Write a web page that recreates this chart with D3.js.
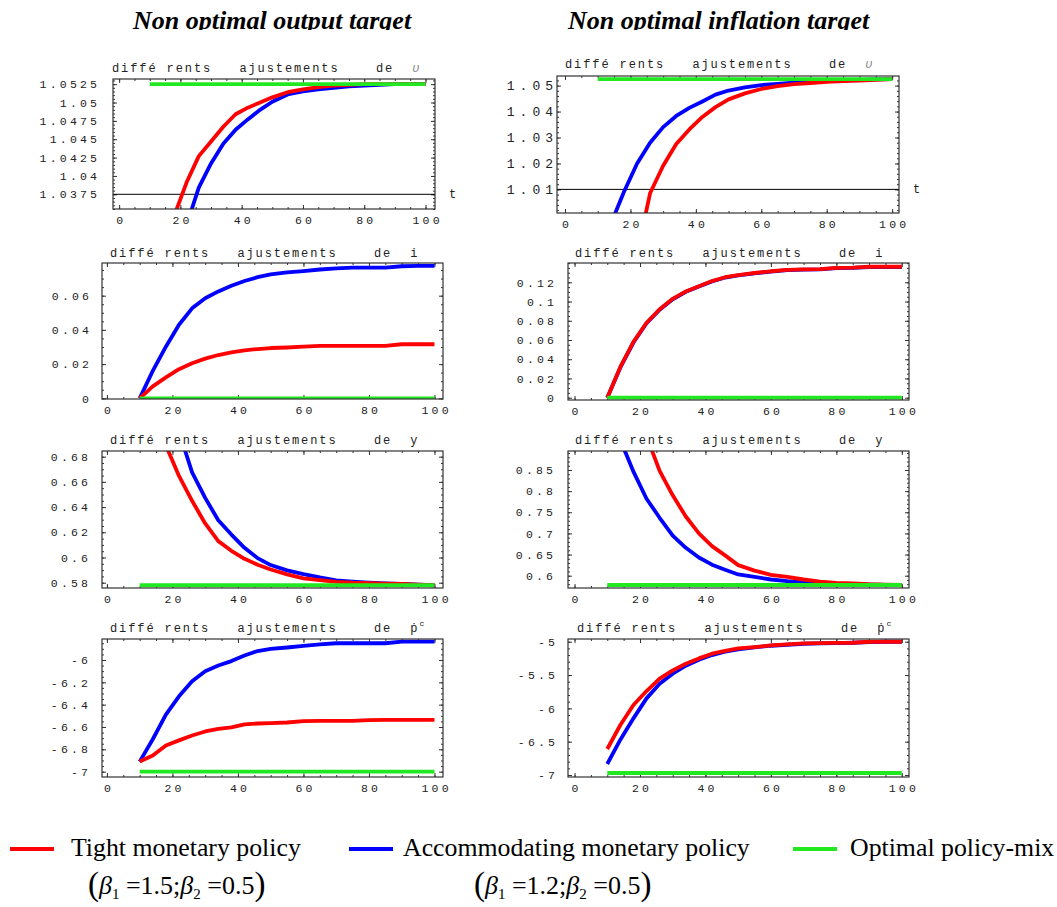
<!DOCTYPE html>
<html>
<head>
<meta charset="utf-8">
<script src="https://cdn.jsdelivr.net/npm/d3@7"></script>
<style>
  body { margin: 0; background: #fff; }
  svg { display: block; }
  .mono { font-family: "Liberation Mono", "Courier New", monospace; fill: #222; }
  .serif { font-family: "Liberation Serif", "Times New Roman", serif; fill: #000; }
</style>
</head>
<body>
<svg id="chart" width="1057" height="907"></svg>
<script>
// time grid shared by all series
const T = [10, 14, 18, 22, 26, 30, 34, 38, 42, 46, 50, 55, 60, 65, 70, 75, 80, 85, 90, 95, 100];

// upsilon
const uOutTight = [1.022, 1.029, 1.0346, 1.0391, 1.0427, 1.0447, 1.0467, 1.0484, 1.0493, 1.0500, 1.0507, 1.0514, 1.0518, 1.0521, 1.0523, 1.0524, 1.0525, 1.0525, 1.0525, 1.0525, 1.0525];
const uOutAccom = [1.012, 1.020, 1.027, 1.0333, 1.0384, 1.0417, 1.0444, 1.0463, 1.0477, 1.0490, 1.0501, 1.0511, 1.0515, 1.0518, 1.0520, 1.0522, 1.0523, 1.0524, 1.0525, 1.0525, 1.0525];
const uInfTight = [0.93, 0.95, 0.97, 0.985, 1.0085, 1.0191, 1.0275, 1.0331, 1.0379, 1.0417, 1.0447, 1.0470, 1.0487, 1.0498, 1.0506, 1.0510, 1.0514, 1.0517, 1.0519, 1.0522, 1.0525];
const uInfAccom = [0.975, 0.9967, 1.009, 1.0199, 1.0280, 1.0340, 1.0383, 1.0414, 1.0439, 1.0465, 1.0481, 1.0493, 1.0502, 1.0507, 1.0511, 1.0514, 1.0518, 1.0520, 1.0522, 1.0524, 1.0525];
// i
const iOutTight = [0, 0.0070, 0.0122, 0.0170, 0.0205, 0.0232, 0.0253, 0.0268, 0.0280, 0.0288, 0.0294, 0.0297, 0.0302, 0.0306, 0.0306, 0.0306, 0.0306, 0.0306, 0.0316, 0.0316, 0.0316];
const iOutAccom = [0, 0.0160, 0.0302, 0.0430, 0.0526, 0.0585, 0.0625, 0.0658, 0.0686, 0.0708, 0.0724, 0.0736, 0.0744, 0.0753, 0.0760, 0.0764, 0.0764, 0.0764, 0.0772, 0.0774, 0.0774];
const iInfTight = [0, 0.032, 0.058, 0.078, 0.092, 0.1028, 0.1105, 0.1160, 0.1213, 0.1253, 0.1276, 0.1297, 0.1315, 0.1329, 0.1335, 0.1338, 0.1351, 0.1353, 0.1362, 0.1362, 0.1362];
const iInfAccom = [0, 0.0315, 0.0574, 0.0774, 0.0915, 0.1024, 0.1101, 0.1157, 0.1209, 0.1250, 0.1273, 0.1294, 0.1312, 0.1326, 0.1332, 0.1335, 0.1348, 0.1350, 0.1359, 0.1359, 0.1359];
// y
const yOutTight = [0.76, 0.725, 0.689, 0.6647, 0.645, 0.627, 0.613, 0.6053, 0.599, 0.5943, 0.5905, 0.5866, 0.5835, 0.582, 0.5806, 0.58, 0.5797, 0.5793, 0.579, 0.5785, 0.578];
const yOutAccom = [0.82, 0.77, 0.733, 0.700, 0.6675, 0.6473, 0.6295, 0.6182, 0.6077, 0.5995, 0.594, 0.5898, 0.5868, 0.5842, 0.5819, 0.5809, 0.5801, 0.5795, 0.579, 0.5785, 0.578];
const yInfTight = [1.15, 1.07, 1.0, 0.93, 0.848, 0.790, 0.740, 0.700, 0.670, 0.648, 0.625, 0.612, 0.602, 0.597, 0.591, 0.586, 0.583, 0.5815, 0.5798, 0.579, 0.578];
const yInfAccom = [1.0, 0.921, 0.846, 0.782, 0.737, 0.695, 0.666, 0.643, 0.626, 0.614, 0.603, 0.597, 0.591, 0.587, 0.584, 0.5818, 0.580, 0.5792, 0.5787, 0.5783, 0.578];
// p dot c
const pOutTight = [-6.91, -6.855, -6.765, -6.72, -6.676, -6.64, -6.617, -6.603, -6.576, -6.569, -6.565, -6.56, -6.548, -6.546, -6.546, -6.546, -6.538, -6.537, -6.537, -6.537, -6.537];
const pOutAccom = [-6.91, -6.71, -6.49, -6.325, -6.19, -6.10, -6.05, -6.01, -5.96, -5.92, -5.90, -5.888, -5.873, -5.86, -5.85, -5.85, -5.85, -5.85, -5.836, -5.836, -5.836];
const pInfTight = [-6.61, -6.25, -5.95, -5.74, -5.555, -5.43, -5.33, -5.25, -5.18, -5.138, -5.10, -5.08, -5.056, -5.04, -5.024, -5.02, -5.018, -5.015, -5.0, -5.0, -5.0];
const pInfAccom = [-6.835, -6.47, -6.15, -5.85, -5.63, -5.48, -5.36, -5.27, -5.20, -5.15, -5.115, -5.085, -5.06, -5.045, -5.03, -5.025, -5.02, -5.015, -5.005, -5.0, -5.0];

// optimal policy-mix: flat from t=10 to t=100
const optimalSpan = [10, 100];
const optimalLevel = [1.0525, 1.0525, 0, 0, 0.578, 0.578, -7, -6.97];

const tightSeries = [uOutTight, uInfTight, iOutTight, iInfTight, yOutTight, yInfTight, pOutTight, pInfTight];
const accomSeries = [uOutAccom, uInfAccom, iOutAccom, iInfAccom, yOutAccom, yInfAccom, pOutAccom, pInfAccom];

const xTicks = [0, 20, 40, 60, 80, 100];
const yTicks = [
  [1.0375, 1.04, 1.0425, 1.045, 1.0475, 1.05, 1.0525],
  [1.01, 1.02, 1.03, 1.04, 1.05],
  [0, 0.02, 0.04, 0.06],
  [0, 0.02, 0.04, 0.06, 0.08, 0.1, 0.12],
  [0.58, 0.6, 0.62, 0.64, 0.66, 0.68],
  [0.6, 0.65, 0.7, 0.75, 0.8, 0.85],
  [-7, -6.8, -6.6, -6.4, -6.2, -6],
  [-7, -6.5, -6, -5.5, -5]
];
const panelVar = ["υ", "υ", "i", "i", "y", "y", "ṗ", "ṗ"];
const colTitles = ["Non optimal output target", "Non optimal inflation target"];
const legendLabels = ["Tight monetary policy", "Accommodating monetary policy", "Optimal policy-mix"];
const beta1 = ["1.5", "1.2"];
const beta2 = ["0.5", "0.5"];

const RED = "#ff0000", BLUE = "#0000ff", GREEN = "#22e822";
const legendColors = [RED, BLUE, GREEN];

// panel geometry
const layout = [
  { box: [113, 79, 435, 209], xd: [-2.0, 103.1], yd: [1.0355, 1.0532], minor: 0.0005, gap: 16, lf: 11.5, ls: 3.2, title: [112, 72], axisAt: 1.0375 },
  { box: [557, 76, 899, 213], xd: [-2.45, 102.1], yd: [1.0009, 1.0537], minor: 0.002, gap: 4, lf: 13, ls: 5, title: [565, 68], axisAt: 1.01 },
  { box: [102, 263, 443, 399], xd: [-1.5, 102.6], yd: [-0.0004, 0.0791], minor: 0.005, gap: 13, lf: 11.5, ls: 3.2, title: [110, 257] },
  { box: [568, 263, 909, 400], xd: [-2.0, 102.2], yd: [-0.0024, 0.1401], minor: 0.005, gap: 14, lf: 11.5, ls: 3.2, title: [575, 257] },
  { box: [102, 451, 443, 588], xd: [-1.5, 102.6], yd: [0.5758, 0.6845], minor: 0.005, gap: 14, lf: 11.5, ls: 3.2, title: [110, 444] },
  { box: [568, 451, 909, 588], xd: [-2.0, 102.2], yd: [0.5709, 0.8949], minor: 0.01, gap: 15, lf: 11.5, ls: 3.2, title: [575, 444] },
  { box: [102, 639, 443, 777], xd: [-1.5, 102.6], yd: [-7.048, -5.812], minor: 0.05, gap: 14, lf: 11.5, ls: 3.2, title: [110, 632] },
  { box: [568, 639, 909, 777], xd: [-2.0, 102.2], yd: [-7.03, -4.959], minor: 0.1, gap: 13, lf: 11.5, ls: 3.2, title: [577, 632] }
];

const svg = d3.select("#chart");
const defs = svg.append("defs");

layout.forEach((L, k) => {
  const [x0, y0, x1, y1] = L.box;
  const x = d3.scaleLinear().domain(L.xd).range([x0, x1]);
  const y = d3.scaleLinear().domain(L.yd).range([y1, y0]);
  const g = svg.append("g");

  defs.append("clipPath").attr("id", "clip" + k)
    .append("rect").attr("x", x0).attr("y", y0).attr("width", x1 - x0).attr("height", y1 - y0);

  // panel title
  const title = g.append("text").attr("class", "mono")
    .attr("x", L.title[0]).attr("y", L.title[1])
    .style("font-size", "12px").style("letter-spacing", "1.9px")
    .attr("xml:space", "preserve");
  title.append("tspan").text("diffé rents   ajustements    de  ");
  const v = title.append("tspan").text(panelVar[k]);
  if (k < 2) v.style("font-style", "italic").style("fill", "#888");
  if (k >= 6) title.append("tspan").text("c").style("font-size", "8px").attr("dy", -6);

  // ticks
  const yMinor = d3.range(Math.ceil(L.yd[0] / L.minor) * L.minor, L.yd[1], L.minor);
  const xMinor = d3.range(0, 101, 5);
  const tickStyle = sel => { sel.select(".domain").remove(); sel.selectAll("line").attr("stroke", "#333"); };

  g.append("g").attr("transform", `translate(${x0},0)`)
    .call(d3.axisLeft(y).tickValues(yMinor).tickSize(-2).tickFormat("")).call(tickStyle);
  g.append("g").attr("transform", `translate(${x1},0)`)
    .call(d3.axisRight(y).tickValues(yMinor).tickSize(-2).tickFormat("")).call(tickStyle);
  g.append("g").attr("transform", `translate(${x1},0)`)
    .call(d3.axisRight(y).tickValues(yTicks[k]).tickSize(-4).tickFormat("")).call(tickStyle);
  g.append("g").attr("transform", `translate(0,${y0})`)
    .call(d3.axisTop(x).tickValues(xMinor).tickSize(-2).tickFormat("")).call(tickStyle);
  g.append("g").attr("transform", `translate(0,${y0})`)
    .call(d3.axisTop(x).tickValues(xTicks).tickSize(-4).tickFormat("")).call(tickStyle);
  g.append("g").attr("transform", `translate(0,${y1})`)
    .call(d3.axisBottom(x).tickValues(xMinor).tickSize(-2).tickFormat("")).call(tickStyle);

  const yAx = g.append("g").attr("transform", `translate(${x0},0)`)
    .call(d3.axisLeft(y).tickValues(yTicks[k]).tickSize(-4).tickPadding(L.gap).tickFormat(d => String(d)))
    .call(tickStyle);
  yAx.selectAll("text").attr("class", "mono").attr("fill", null)
    .style("font-size", L.lf + "px").style("letter-spacing", L.ls + "px")
    .attr("dx", L.ls);

  const xAx = g.append("g").attr("transform", `translate(0,${y1})`)
    .call(d3.axisBottom(x).tickValues(xTicks).tickSize(-4).tickPadding(7).tickFormat(d => String(d)))
    .call(tickStyle);
  xAx.selectAll("text").attr("class", "mono").attr("fill", null)
    .style("font-size", "11.5px").style("letter-spacing", "3.2px")
    .attr("dx", 1.6);

  // horizontal axis through the origin (top row only)
  if (L.axisAt !== undefined) {
    g.append("line").attr("x1", x0).attr("x2", x1)
      .attr("y1", y(L.axisAt)).attr("y2", y(L.axisAt))
      .attr("stroke", "#000").attr("stroke-width", 1);
    g.append("text").attr("class", "mono").attr("x", x1 + 14).attr("y", y(L.axisAt) + 4)
      .style("font-size", "12px").text("t");
  }

  // curves
  const line = d3.line().x((d, i) => x(T[i])).y(d => y(d));
  const plot = g.append("g").attr("clip-path", `url(#clip${k})`);
  plot.append("path").datum(accomSeries[k]).attr("d", line)
    .attr("fill", "none").attr("stroke", BLUE).attr("stroke-width", 3.8).attr("stroke-linejoin", "round");
  plot.append("path").datum(tightSeries[k]).attr("d", line)
    .attr("fill", "none").attr("stroke", RED).attr("stroke-width", 3.8).attr("stroke-linejoin", "round");
  plot.append("path").datum(optimalSpan)
    .attr("d", d3.line().x(d => x(d)).y(() => y(optimalLevel[k])))
    .attr("fill", "none").attr("stroke", GREEN).attr("stroke-width", 3.8);

  // frame
  g.append("rect").attr("x", x0).attr("y", y0).attr("width", x1 - x0).attr("height", y1 - y0)
    .attr("fill", "none").attr("stroke", "#333").attr("stroke-width", 1.2);
});

// column titles, cut off at their baseline as in the source
defs.append("clipPath").attr("id", "titleClip")
  .append("rect").attr("x", 0).attr("y", 0).attr("width", 1057).attr("height", 30);
svg.append("g").attr("clip-path", "url(#titleClip)")
  .selectAll("text").data(colTitles).join("text")
  .attr("class", "serif")
  .attr("x", (d, i) => [133, 568][i]).attr("y", 29)
  .style("font-size", "26px").style("font-weight", "bold").style("font-style", "italic")
  .text(d => d);

// legend
const legend = svg.append("g");
const legLineX = [10, 349, 793], legTextX = [71, 403, 850];
legendLabels.forEach((lab, i) => {
  legend.append("line").attr("x1", legLineX[i]).attr("x2", legLineX[i] + 44)
    .attr("y1", 849).attr("y2", 849).attr("stroke", legendColors[i]).attr("stroke-width", 4);
  legend.append("text").attr("class", "serif").attr("x", legTextX[i]).attr("y", 856)
    .style("font-size", "25.8px").text(lab);
});

// policy parameters, one text per part so nothing overlaps
const paramX = [88, 474];
beta1.forEach((b1, i) => {
  const t = legend.append("text").attr("class", "serif").attr("x", paramX[i]).attr("y", 894)
    .style("font-size", "26px").attr("xml:space", "preserve");
  t.append("tspan").text("(").style("font-size", "33px").attr("dy", 1);
  t.append("tspan").text("β").style("font-style", "italic").attr("dy", -1);
  t.append("tspan").text("1").style("font-size", "15px").attr("dy", 5);
  t.append("tspan").text(" =" + b1 + ";").attr("dy", -5);
  t.append("tspan").text("β").style("font-style", "italic");
  t.append("tspan").text("2").style("font-size", "15px").attr("dy", 5);
  t.append("tspan").text(" =" + beta2[i]).attr("dy", -5);
  t.append("tspan").text(")").style("font-size", "33px").attr("dy", 1);
});
</script>
</body>
</html>
